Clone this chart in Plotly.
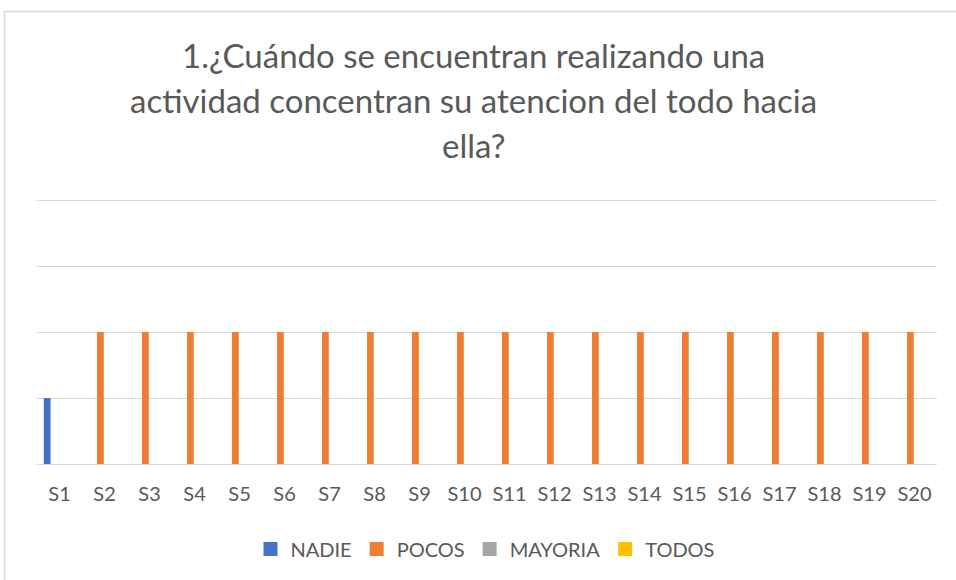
import plotly.graph_objects as go

categories = [f"S{i}" for i in range(1, 21)]
series_names = ["NADIE", "POCOS", "MAYORIA", "TODOS"]
nadie = [1] + [0] * 19
pocos = [0] + [2] * 19
mayoria = [0] * 20
todos = [0] * 20
colors = ["#4472C4", "#ED7D31", "#A5A5A5", "#FFC000"]
title_lines = [
    "1.¿Cuándo se encuentran realizando una",
    "actividad concentran su atencion del todo hacia",
    "ella?",
]

FONT = "Lato"
TXT = "#595959"

W, H = 956, 580
UNIT = 66.0          # pixels per y unit
ZERO_PX = 464        # pixel row of y = 0
L, R, B = 37, 19, H - ZERO_PX
T = 195
YMAX = (ZERO_PX - T) / UNIT
pw, ph = W - L - R, H - T - B

def px_to_paper_x(px):
    return (px - L) / pw

def px_to_paper_y(py):
    return (H - B - py) / ph

fig = go.Figure()
for name, vals, col in zip(series_names, [nadie, pocos, mayoria, todos], colors):
    fig.add_trace(go.Bar(x=categories, y=vals, name=name, marker_color=col,
                         marker_line_width=0, showlegend=False, legendgroup=name))
# legend entries with larger square swatches
for name, col in zip(series_names, colors):
    fig.add_trace(go.Scatter(x=[None], y=[None], mode="markers", name=name,
                             legendgroup=name,
                             marker=dict(symbol="square", size=14, color=col),
                             showlegend=True))

annotations = []
for line, py in zip(title_lines, [55, 100, 145]):
    annotations.append(dict(text=line, xref="paper", yref="paper",
                            x=px_to_paper_x(473), y=px_to_paper_y(py),
                            xanchor="center", yanchor="middle", showarrow=False,
                            font=dict(family=FONT, size=33, color=TXT)))

fig.update_layout(
    width=W, height=H,
    margin=dict(l=L, r=R, t=T, b=B),
    paper_bgcolor="white", plot_bgcolor="white",
    barmode="group", bargap=0.27, bargroupgap=0.18,
    font=dict(family=FONT, color=TXT),
    annotations=annotations,
    showlegend=True,
    legend=dict(orientation="h", xanchor="center", x=px_to_paper_x(485),
                yanchor="middle", y=px_to_paper_y(549),
                font=dict(family=FONT, size=20, color=TXT),
                itemwidth=30, traceorder="normal"),
    shapes=[dict(type="rect", xref="paper", yref="paper",
                 x0=px_to_paper_x(4.5), x1=px_to_paper_x(1000),
                 y0=px_to_paper_y(700), y1=px_to_paper_y(11.5),
                 line=dict(color="#D9D9D9", width=1.5), fillcolor="rgba(0,0,0,0)",
                 layer="below")],
)
fig.update_xaxes(showgrid=False, showline=True, linecolor="#D9D9D9", linewidth=1,
                 ticks="", tickfont=dict(family=FONT, size=20, color=TXT),
                 ticklabelstandoff=12)
fig.update_yaxes(range=[0, YMAX], tickvals=[0, 1, 2, 3, 4], showgrid=True,
                 gridcolor="#D9D9D9", gridwidth=1, showticklabels=False,
                 zeroline=False, showline=False, ticks="")

fig.write_html("out.html", config={"displayModeBar": False},
               post_script="document.body.style.margin='0';")
